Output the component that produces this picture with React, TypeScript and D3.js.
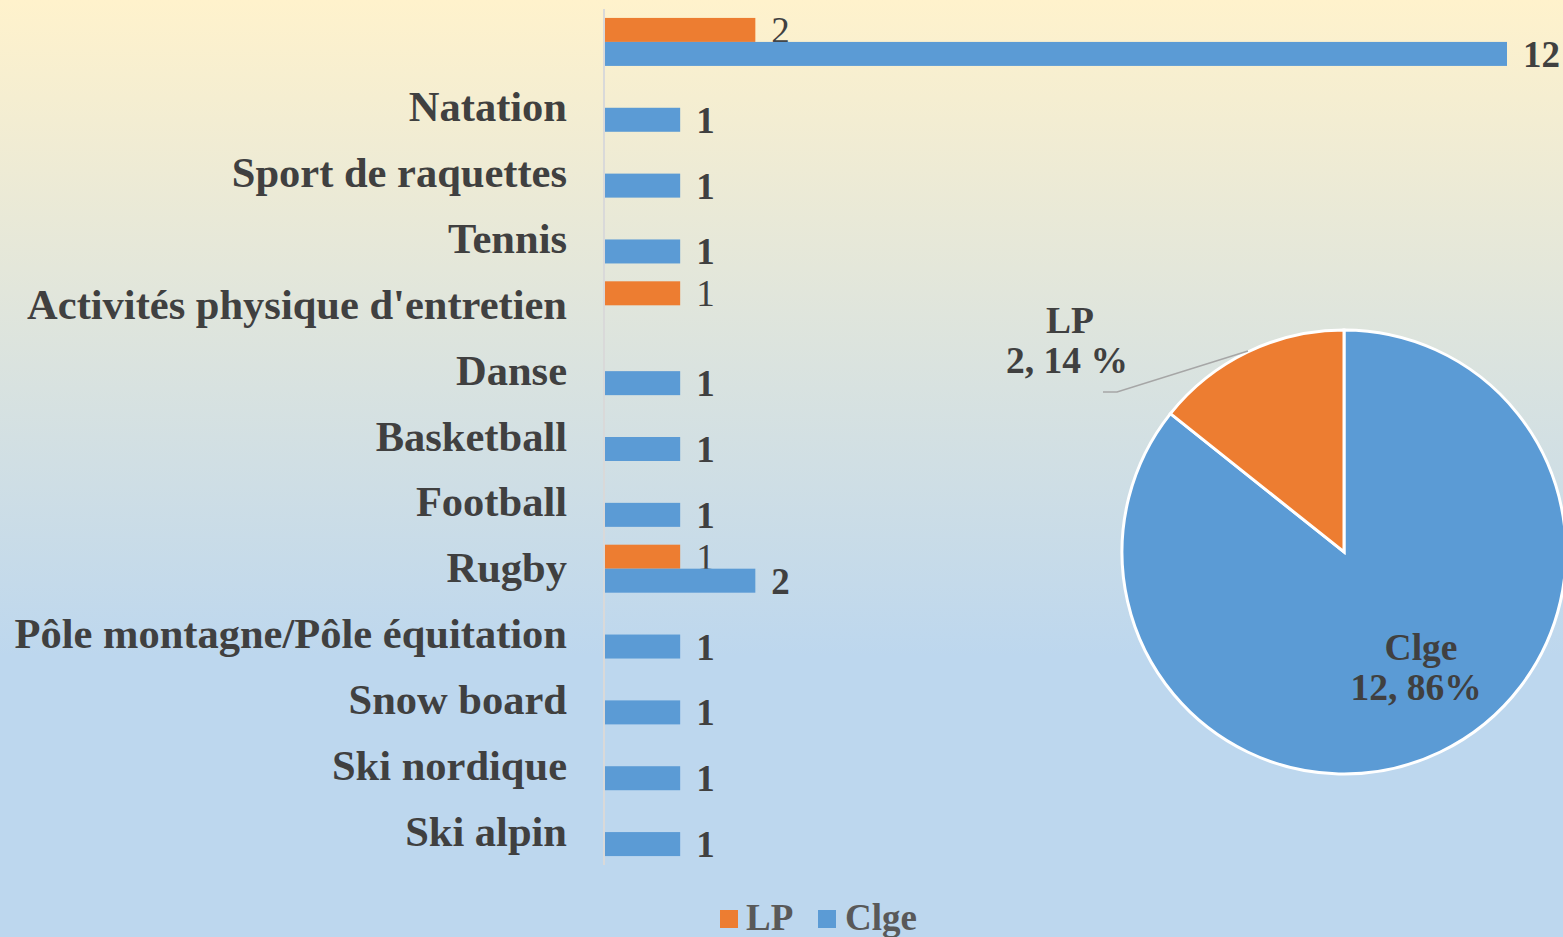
import React from "react";
import * as d3 from "d3";

const categories = [
  "",
  "Natation",
  "Sport de raquettes",
  "Tennis",
  "Activités physique d'entretien",
  "Danse",
  "Basketball",
  "Football",
  "Rugby",
  "Pôle montagne/Pôle équitation",
  "Snow board",
  "Ski nordique",
  "Ski alpin",
];
const lpValues: (number | null)[] = [2, null, null, null, 1, null, null, null, 1, null, null, null, null];
const clgeValues: (number | null)[] = [12, 1, 1, 1, null, 1, 1, 1, 2, 1, 1, 1, 1];

const pieNames = ["Clge", "LP"];
const pieValues = [12, 2];
const pieLabels = ["12, 86%", "2, 14 %"];

const ORANGE = "#ed7d31";
const BLUE = "#5b9bd5";
const TEXT = "#404040";
const FONT = "'Liberation Serif', 'Times New Roman', serif";

export default function App() {
  const W = 1563, H = 937;
  const x = d3.scaleLinear().domain([0, 12]).range([605, 1507]);
  const y = d3.scaleBand<string>().domain(categories.map((c, i) => String(i))).range([9, 865]);
  const barH = 24;
  const catFs = 42.5;
  const fs = 37;

  const pie = d3.pie<number>().sort(null).value((d) => d)(pieValues);
  const R = 222;
  const cx = 1344, cy = 552;
  const arc = d3.arc<d3.PieArcDatum<number>>().innerRadius(0).outerRadius(R);

  return (
    <svg width={W} height={H} style={{ position: "fixed", left: 0, top: 0 }} fontFamily={FONT}>
      <defs>
        <linearGradient id="bg" x1="0" y1="0" x2="0" y2="1">
          <stop offset="0" stopColor="#fff2cc" />
          <stop offset="0.7" stopColor="#bdd7ee" />
          <stop offset="1" stopColor="#bdd7ee" />
        </linearGradient>
      </defs>
      <rect x={0} y={0} width={W} height={H} fill="url(#bg)" />

      {/* axis */}
      <line x1={604} x2={604} y1={y.range()[0]} y2={y.range()[1]} stroke="#d9d9d9" strokeWidth={2} />

      {categories.map((c, i) => {
        const c0 = (y(String(i)) as number) + y.bandwidth() / 2;
        const lp = lpValues[i];
        const cl = clgeValues[i];
        return (
          <g key={i}>
            <text x={567} y={c0 + 13.5} textAnchor="end" fontSize={catFs} fontWeight="bold" fill={TEXT}>
              {c}
            </text>
            {lp != null && (
              <g>
                <rect x={x(0)} y={c0 - barH} width={x(lp) - x(0)} height={barH} fill={ORANGE} />
                <text x={x(lp) + 16} y={c0 - barH / 2 + 13} fontSize={fs} fill={TEXT}>
                  {lp}
                </text>
              </g>
            )}
            {cl != null && (
              <g>
                <rect x={x(0)} y={c0} width={x(cl) - x(0)} height={barH} fill={BLUE} />
                <text x={x(cl) + 16} y={c0 + barH / 2 + 13} fontSize={fs} fontWeight="bold" fill={TEXT}>
                  {cl}
                </text>
              </g>
            )}
          </g>
        );
      })}

      {/* legend */}
      <rect x={720} y={910} width={18} height={18} fill={ORANGE} />
      <text x={746} y={930} fontSize={fs} fontWeight="bold" fill="#595959">LP</text>
      <rect x={818} y={910} width={18} height={18} fill={BLUE} />
      <text x={845} y={930} fontSize={fs} fontWeight="bold" fill="#595959">Clge</text>

      {/* pie */}
      <g transform={`translate(${cx},${cy})`}>
        {pie.map((p, i) => (
          <path key={i} d={arc(p) as string} fill={i === 0 ? BLUE : ORANGE} stroke="#fff" strokeWidth={3} />
        ))}
      </g>
      <polyline points="1248,351 1117,392 1103,392" fill="none" stroke="#a6a6a6" strokeWidth={1.5} />
      <text x={1421} y={660} textAnchor="middle" fontSize={37.5} fontWeight="bold" fill={TEXT}>{pieNames[0]}</text>
      <text x={1416} y={700} textAnchor="middle" fontSize={37.5} fontWeight="bold" fill={TEXT}>{pieLabels[0]}</text>
      <text x={1070} y={333} textAnchor="middle" fontSize={37.5} fontWeight="bold" fill={TEXT}>{pieNames[1]}</text>
      <text x={1067} y={373} textAnchor="middle" fontSize={37.5} fontWeight="bold" fill={TEXT}>{pieLabels[1]}</text>
    </svg>
  );
}
